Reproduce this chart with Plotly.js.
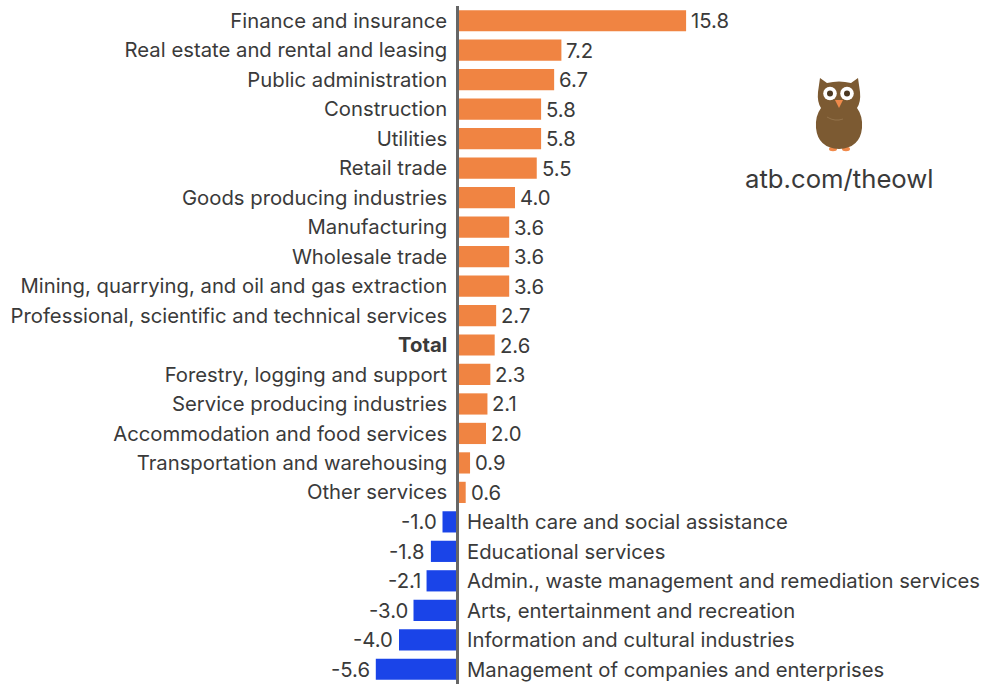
<!DOCTYPE html>
<html>
<head>
<meta charset="utf-8">
<script src="https://cdn.plot.ly/plotly-3.0.1.min.js"></script>
<style>html,body{margin:0;padding:0;background:#fff}#chart{width:984px;height:685px}</style>
</head>
<body>
<div id="chart"></div>
<script>
const categories = ["Finance and insurance","Real estate and rental and leasing","Public administration","Construction","Utilities","Retail trade","Goods producing industries","Manufacturing","Wholesale trade","Mining, quarrying, and oil and gas extraction","Professional, scientific and technical services","Total","Forestry, logging and support","Service producing industries","Accommodation and food services","Transportation and warehousing","Other services","Health care and social assistance","Educational services","Admin., waste management and remediation services","Arts, entertainment and recreation","Information and cultural industries","Management of companies and enterprises"];
const values = [15.8,7.2,6.7,5.8,5.8,5.5,4.0,3.6,3.6,3.6,2.7,2.6,2.3,2.1,2.0,0.9,0.6,-1.0,-1.8,-2.1,-3.0,-4.0,-5.6];
const positiveColor = "#f08442";
const negativeColor = "#1a44e8";
const textColor = "#3a3a3a";
const fontFamily = "Inter, 'Noto Sans', sans-serif";
const labelSize = 20.3;

const owlSvg = `<svg xmlns="http://www.w3.org/2000/svg" viewBox="0 0 48 74">
<ellipse cx="18" cy="71" rx="4" ry="2.2" fill="#f08a4b"/><ellipse cx="31" cy="71" rx="4" ry="2.2" fill="#f08a4b"/>
<path d="M5 0 L12 5 Q24 2 36 5 L43 0 L45 14 Q46 24 42 30 Q48 38 47 50 Q45 70 24 71 Q3 70 1 50 Q0 38 6 30 Q2 24 3 14 Z" fill="#7c5a32"/>
<path d="M12 39 Q20 44 28 41" stroke="#93724a" stroke-width="1" fill="none"/>
<circle cx="15" cy="15.5" r="6.8" fill="#fff"/><circle cx="32" cy="15.5" r="6.8" fill="#fff"/>
<circle cx="15" cy="15.5" r="3" fill="#4b3822"/><circle cx="32" cy="15.5" r="3" fill="#4b3822"/>
<path d="M20 22 L28 22 L24 30 Z" fill="#f08a4b"/>
</svg>`;

const posCats = categories.map((c, i) => values[i] >= 0 ? (c === "Total" ? "<b>Total</b>" : c) : "");
const labelFont = {family: fontFamily, size: labelSize, color: textColor};
const annotations = categories.filter((c, i) => values[i] < 0).map(c => ({
  x: 0, y: c, xref: "x", yref: "y", text: c, showarrow: false,
  xanchor: "left", xshift: 8, font: labelFont
}));
categories.forEach((c, i) => annotations.push({
  x: values[i], y: c, xref: "x", yref: "y", text: values[i].toFixed(1), showarrow: false,
  xanchor: values[i] >= 0 ? "left" : "right", xshift: values[i] >= 0 ? 3 : -4, font: labelFont
}));
annotations.push({
  xref: "paper", yref: "paper", x: 839 / 984, y: 1 - (178 - 6) / 678, text: "atb.com/theowl",
  showarrow: false, xanchor: "center", yanchor: "middle",
  font: {family: fontFamily, size: 25.7, color: textColor}
});

Plotly.newPlot("chart", [{
  type: "bar", orientation: "h", y: categories, x: values,
  marker: {color: values.map(v => v >= 0 ? positiveColor : negativeColor)},
  cliponaxis: false,
  hoverinfo: "y+x"
}], {
  width: 984, height: 685,
  margin: {l: 0, r: 0, t: 6, b: 1, pad: 0},
  paper_bgcolor: "#fff", plot_bgcolor: "#fff",
  bargap: 0.28, showlegend: false,
  xaxis: {range: [-457 / 14.5, 527 / 14.5], visible: false, fixedrange: true},
  yaxis: {
    type: "category", categoryorder: "array", categoryarray: categories,
    range: [22.5, -0.5], anchor: "free", position: 457 / 984,
    tickmode: "array", tickvals: categories, ticktext: posCats,
    ticks: "", ticklabelstandoff: 5,
    tickfont: {family: fontFamily, size: labelSize, color: textColor},
    showgrid: false, zeroline: false, showline: true, linecolor: "#666", linewidth: 2.5, fixedrange: true
  },
  annotations: annotations,
  images: [{
    source: "data:image/svg+xml;charset=utf-8," + encodeURIComponent(owlSvg),
    xref: "paper", yref: "paper", x: 815 / 984, y: 1 - (78 - 6) / 678,
    sizex: 48 / 984, sizey: 74 / 678, xanchor: "left", yanchor: "top", sizing: "stretch", layer: "above"
  }]
}, {displayModeBar: false, responsive: false});
</script>
</body>
</html>
